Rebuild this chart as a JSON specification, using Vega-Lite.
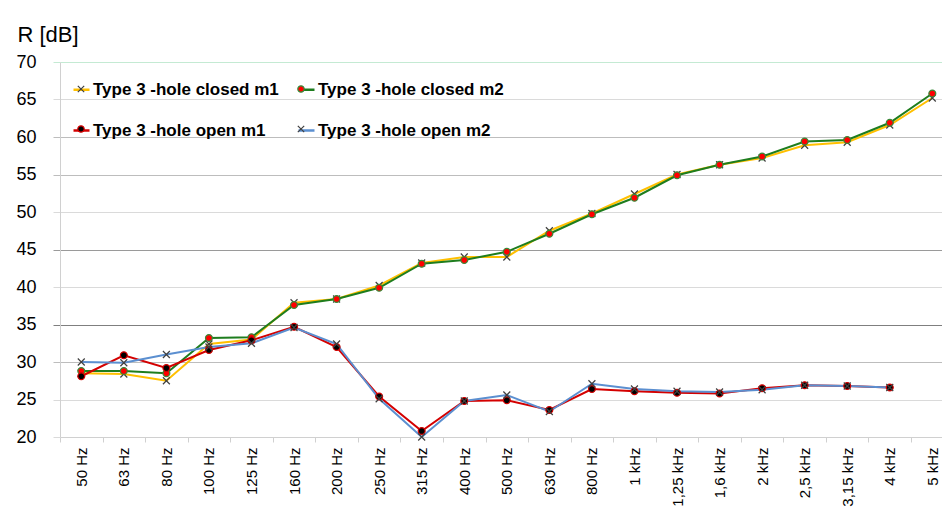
{
  "$schema": "https://vega.github.io/schema/vega-lite/v6.json",
  "width": 882,
  "height": 375,
  "autosize": {"type": "none"},
  "padding": {"left": 60, "top": 62, "right": 0, "bottom": 76},
  "background": "white",
  "config": {
    "view": {"stroke": null},
    "font": "Liberation Sans"
  },
  "data": {
    "values": [
      {"freq": "50 Hz", "series": "Type 3 -hole closed m1", "R": 28.5},
      {"freq": "63 Hz", "series": "Type 3 -hole closed m1", "R": 28.4},
      {"freq": "80 Hz", "series": "Type 3 -hole closed m1", "R": 27.5},
      {"freq": "100 Hz", "series": "Type 3 -hole closed m1", "R": 32.4},
      {"freq": "125 Hz", "series": "Type 3 -hole closed m1", "R": 33.0},
      {"freq": "160 Hz", "series": "Type 3 -hole closed m1", "R": 37.9},
      {"freq": "200 Hz", "series": "Type 3 -hole closed m1", "R": 38.4},
      {"freq": "250 Hz", "series": "Type 3 -hole closed m1", "R": 40.2},
      {"freq": "315 Hz", "series": "Type 3 -hole closed m1", "R": 43.2},
      {"freq": "400 Hz", "series": "Type 3 -hole closed m1", "R": 44.0},
      {"freq": "500 Hz", "series": "Type 3 -hole closed m1", "R": 44.0},
      {"freq": "630 Hz", "series": "Type 3 -hole closed m1", "R": 47.5},
      {"freq": "800 Hz", "series": "Type 3 -hole closed m1", "R": 49.8},
      {"freq": "1 kHz", "series": "Type 3 -hole closed m1", "R": 52.4},
      {"freq": "1,25 kHz", "series": "Type 3 -hole closed m1", "R": 55.0},
      {"freq": "1,6 kHz", "series": "Type 3 -hole closed m1", "R": 56.3},
      {"freq": "2 kHz", "series": "Type 3 -hole closed m1", "R": 57.2},
      {"freq": "2,5 kHz", "series": "Type 3 -hole closed m1", "R": 58.9},
      {"freq": "3,15 kHz", "series": "Type 3 -hole closed m1", "R": 59.3},
      {"freq": "4 kHz", "series": "Type 3 -hole closed m1", "R": 61.6},
      {"freq": "5 kHz", "series": "Type 3 -hole closed m1", "R": 65.2},

      {"freq": "50 Hz", "series": "Type 3 -hole closed m2", "R": 28.8},
      {"freq": "63 Hz", "series": "Type 3 -hole closed m2", "R": 28.8},
      {"freq": "80 Hz", "series": "Type 3 -hole closed m2", "R": 28.5},
      {"freq": "100 Hz", "series": "Type 3 -hole closed m2", "R": 33.2},
      {"freq": "125 Hz", "series": "Type 3 -hole closed m2", "R": 33.3},
      {"freq": "160 Hz", "series": "Type 3 -hole closed m2", "R": 37.6},
      {"freq": "200 Hz", "series": "Type 3 -hole closed m2", "R": 38.4},
      {"freq": "250 Hz", "series": "Type 3 -hole closed m2", "R": 39.9},
      {"freq": "315 Hz", "series": "Type 3 -hole closed m2", "R": 43.1},
      {"freq": "400 Hz", "series": "Type 3 -hole closed m2", "R": 43.6},
      {"freq": "500 Hz", "series": "Type 3 -hole closed m2", "R": 44.7},
      {"freq": "630 Hz", "series": "Type 3 -hole closed m2", "R": 47.1},
      {"freq": "800 Hz", "series": "Type 3 -hole closed m2", "R": 49.7},
      {"freq": "1 kHz", "series": "Type 3 -hole closed m2", "R": 51.9},
      {"freq": "1,25 kHz", "series": "Type 3 -hole closed m2", "R": 54.9},
      {"freq": "1,6 kHz", "series": "Type 3 -hole closed m2", "R": 56.3},
      {"freq": "2 kHz", "series": "Type 3 -hole closed m2", "R": 57.4},
      {"freq": "2,5 kHz", "series": "Type 3 -hole closed m2", "R": 59.4},
      {"freq": "3,15 kHz", "series": "Type 3 -hole closed m2", "R": 59.6},
      {"freq": "4 kHz", "series": "Type 3 -hole closed m2", "R": 61.9},
      {"freq": "5 kHz", "series": "Type 3 -hole closed m2", "R": 65.8},

      {"freq": "50 Hz", "series": "Type 3 -hole open m1", "R": 28.1},
      {"freq": "63 Hz", "series": "Type 3 -hole open m1", "R": 30.9},
      {"freq": "80 Hz", "series": "Type 3 -hole open m1", "R": 29.2},
      {"freq": "100 Hz", "series": "Type 3 -hole open m1", "R": 31.6},
      {"freq": "125 Hz", "series": "Type 3 -hole open m1", "R": 32.9},
      {"freq": "160 Hz", "series": "Type 3 -hole open m1", "R": 34.7},
      {"freq": "200 Hz", "series": "Type 3 -hole open m1", "R": 32.0},
      {"freq": "250 Hz", "series": "Type 3 -hole open m1", "R": 25.4},
      {"freq": "315 Hz", "series": "Type 3 -hole open m1", "R": 20.8},
      {"freq": "400 Hz", "series": "Type 3 -hole open m1", "R": 24.8},
      {"freq": "500 Hz", "series": "Type 3 -hole open m1", "R": 24.9},
      {"freq": "630 Hz", "series": "Type 3 -hole open m1", "R": 23.6},
      {"freq": "800 Hz", "series": "Type 3 -hole open m1", "R": 26.4},
      {"freq": "1 kHz", "series": "Type 3 -hole open m1", "R": 26.1},
      {"freq": "1,25 kHz", "series": "Type 3 -hole open m1", "R": 25.9},
      {"freq": "1,6 kHz", "series": "Type 3 -hole open m1", "R": 25.8},
      {"freq": "2 kHz", "series": "Type 3 -hole open m1", "R": 26.5},
      {"freq": "2,5 kHz", "series": "Type 3 -hole open m1", "R": 26.9},
      {"freq": "3,15 kHz", "series": "Type 3 -hole open m1", "R": 26.8},
      {"freq": "4 kHz", "series": "Type 3 -hole open m1", "R": 26.6},

      {"freq": "50 Hz", "series": "Type 3 -hole open m2", "R": 30.0},
      {"freq": "63 Hz", "series": "Type 3 -hole open m2", "R": 29.9},
      {"freq": "80 Hz", "series": "Type 3 -hole open m2", "R": 31.0},
      {"freq": "100 Hz", "series": "Type 3 -hole open m2", "R": 32.0},
      {"freq": "125 Hz", "series": "Type 3 -hole open m2", "R": 32.5},
      {"freq": "160 Hz", "series": "Type 3 -hole open m2", "R": 34.6},
      {"freq": "200 Hz", "series": "Type 3 -hole open m2", "R": 32.4},
      {"freq": "250 Hz", "series": "Type 3 -hole open m2", "R": 25.1},
      {"freq": "315 Hz", "series": "Type 3 -hole open m2", "R": 20.0},
      {"freq": "400 Hz", "series": "Type 3 -hole open m2", "R": 24.8},
      {"freq": "500 Hz", "series": "Type 3 -hole open m2", "R": 25.6},
      {"freq": "630 Hz", "series": "Type 3 -hole open m2", "R": 23.4},
      {"freq": "800 Hz", "series": "Type 3 -hole open m2", "R": 27.1},
      {"freq": "1 kHz", "series": "Type 3 -hole open m2", "R": 26.4},
      {"freq": "1,25 kHz", "series": "Type 3 -hole open m2", "R": 26.1},
      {"freq": "1,6 kHz", "series": "Type 3 -hole open m2", "R": 26.0},
      {"freq": "2 kHz", "series": "Type 3 -hole open m2", "R": 26.3},
      {"freq": "2,5 kHz", "series": "Type 3 -hole open m2", "R": 26.9},
      {"freq": "3,15 kHz", "series": "Type 3 -hole open m2", "R": 26.8},
      {"freq": "4 kHz", "series": "Type 3 -hole open m2", "R": 26.6}
    ]
  },
  "encoding": {
    "x": {
      "field": "freq",
      "type": "nominal",
      "bandPosition": 0.5,
      "sort": ["50 Hz", "63 Hz", "80 Hz", "100 Hz", "125 Hz", "160 Hz", "200 Hz", "250 Hz", "315 Hz", "400 Hz", "500 Hz", "630 Hz", "800 Hz", "1 kHz", "1,25 kHz", "1,6 kHz", "2 kHz", "2,5 kHz", "3,15 kHz", "4 kHz", "5 kHz"],
      "scale": {"type": "band", "paddingInner": 0, "paddingOuter": 0, "range": [0, 893.6]},
      "axis": {
        "title": null,
        "grid": false,
        "labelAngle": -90,
        "labelFont": "Liberation Sans",
        "labelFontSize": 15,
        "labelColor": "#000000",
        "labelPadding": 5,
        "tickSize": 5,
        "tickColor": "#d0d0d0",
        "domainColor": "#d0d0d0",
        "tickBand": "extent"
      }
    },
    "y": {
      "field": "R",
      "type": "quantitative",
      "scale": {"domain": [20, 70], "nice": false, "zero": false},
      "axis": {
        "values": [20, 25, 30, 35, 40, 45, 50, 55, 60, 65, 70],
        "title": "R [dB]",
        "titleAngle": 0,
        "titleAlign": "left",
        "titleBaseline": "alphabetic",
        "titleX": -43,
        "titleY": -21,
        "titleFont": "Liberation Sans",
        "titleFontSize": 22,
        "titleFontWeight": "normal",
        "titleColor": "#000000",
        "labelFont": "Liberation Sans",
        "labelFontSize": 18,
        "labelColor": "#000000",
        "labelPadding": 17,
        "tickSize": 7,
        "domainColor": "#d0d0d0",
        "gridColor": {
          "condition": [
            {"test": "datum.value === 70", "value": "#c4ead3"},
            {"test": "datum.value === 35", "value": "#7f7f7f"},
            {"test": "datum.value === 45", "value": "#9a9a9a"},
            {"test": "datum.value === 55 || datum.value === 60 || datum.value === 30", "value": "#bdbdbd"}
          ],
          "value": "#dadada"
        },
        "tickColor": {
          "condition": [
            {"test": "datum.value === 70", "value": "#c4ead3"},
            {"test": "datum.value === 35", "value": "#7f7f7f"},
            {"test": "datum.value === 45", "value": "#9a9a9a"},
            {"test": "datum.value === 55 || datum.value === 60 || datum.value === 30", "value": "#bdbdbd"}
          ],
          "value": "#dadada"
        }
      }
    }
  },
  "layer": [
    {
      "mark": {"type": "line", "strokeWidth": 2},
      "encoding": {
        "order": {"value": null},
        "color": {
          "field": "series",
          "type": "nominal",
          "scale": {
            "domain": ["Type 3 -hole closed m1", "Type 3 -hole closed m2", "Type 3 -hole open m1", "Type 3 -hole open m2"],
            "range": ["#ffc000", "#1e7d1e", "#d40000", "#5b8fd0"]
          },
          "legend": {
            "orient": "none",
            "direction": "horizontal",
            "legendX": 12,
            "legendY": 18,
            "columns": 2,
            "title": null,
            "padding": 0,
            "symbolType": "stroke",
            "symbolSize": 256,
            "symbolStrokeWidth": 2.5,
            "labelFont": "Liberation Sans",
            "labelFontSize": 17,
            "labelFontWeight": "bold",
            "labelColor": "#000000",
            "labelOffset": 2,
            "labelLimit": 400,
            "columnPadding": 14,
            "rowPadding": 23
          }
        }
      }
    },
    {
      "mark": {"type": "point", "opacity": 1, "size": 300, "strokeWidth": 1.2},
      "encoding": {
        "shape": {
          "field": "series",
          "type": "nominal",
          "scale": {
            "range": [
              "M-0.4,-0.4L0.4,0.4M-0.4,0.4L0.4,-0.4",
              "M0.4,0A0.4,0.4,0,1,1,-0.4,0A0.4,0.4,0,1,1,0.4,0Z",
              "M0.4,0A0.4,0.4,0,1,1,-0.4,0A0.4,0.4,0,1,1,0.4,0Z",
              "M-0.4,-0.4L0.4,0.4M-0.4,0.4L0.4,-0.4"
            ]
          },
          "legend": {
            "orient": "none",
            "direction": "horizontal",
            "legendX": 12,
            "legendY": 18,
            "columns": 2,
            "title": null,
            "padding": 0,
            "symbolSize": 256,
            "symbolStrokeWidth": 1.2,
            "labelFont": "Liberation Sans",
            "labelFontSize": 17,
            "labelFontWeight": "bold",
            "labelColor": "transparent",
            "labelOffset": 2,
            "labelLimit": 400,
            "columnPadding": 14,
            "rowPadding": 23
          }
        },
        "fill": {
          "field": "series",
          "type": "nominal",
          "scale": {"range": ["transparent", "#ff0000", "#000000", "transparent"]}
        },
        "stroke": {
          "field": "series",
          "type": "nominal",
          "scale": {"range": ["#404040", "#3a8a3a", "#d40000", "#404040"]}
        }
      }
    }
  ]
}
